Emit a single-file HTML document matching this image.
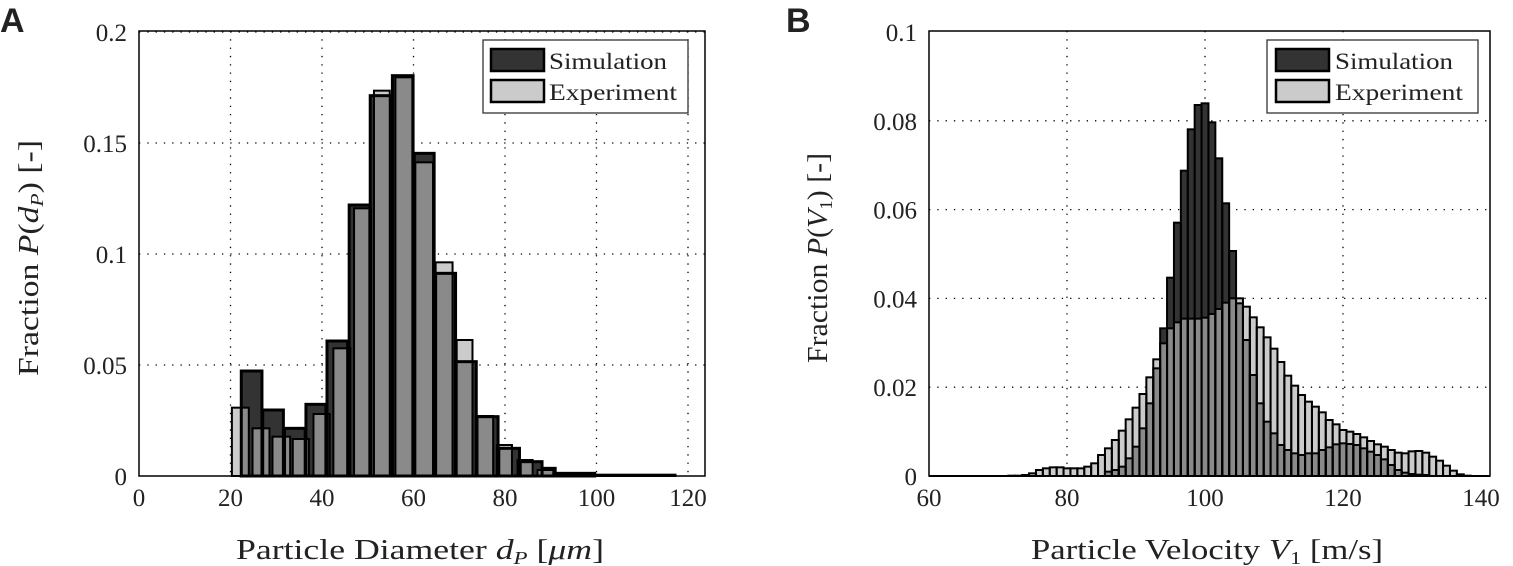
<!DOCTYPE html>
<html><head><meta charset="utf-8"><style>
html,body{margin:0;padding:0;background:#fff;width:1513px;height:566px;overflow:hidden}
svg text{font-family:"Liberation Serif",serif;fill:#222}
</style></head><body>
<svg id="s" width="1513" height="566" xmlns="http://www.w3.org/2000/svg"></svg>
<script>
const S=document.getElementById('s');let h='';
function R(x,y,w,hh,f,st,sw){h+=`<rect x="${x}" y="${y}" width="${w}" height="${hh}" fill="${f}" ${st?`stroke="${st}" stroke-width="${sw}"`:''}/>`;}
function L(x1,y1,x2,y2,st,sw,da){h+=`<line x1="${x1}" y1="${y1}" x2="${x2}" y2="${y2}" stroke="${st}" stroke-width="${sw}" ${da?`stroke-dasharray="${da}"`:''}/>`;}
function T(x,y,t,sz,anc,extra){h+=`<text x="${x}" y="${y}" font-size="${sz}" text-anchor="${anc||'middle'}" ${extra||''}>${t}</text>`;}
const Y0=476,YT=31,LA='lengthAdjust="spacingAndGlyphs"';
function drawBars(sim,exp,simSW,expSW){
 sim.forEach(b=>R(b[0],b[2],b[1]-b[0],Y0-b[2],'#333'));
 exp.forEach(b=>R(b[0],b[2],b[1]-b[0],Y0-b[2],'#cbcbcb'));
 sim.forEach(a=>exp.forEach(b=>{const x1=Math.max(a[0],b[0]),x2=Math.min(a[1],b[1]);if(x2>x1){const y=Math.max(a[2],b[2]);R(x1,y,x2-x1,Y0-y,'#8a8a8a');}}));
 sim.forEach(b=>R(b[0],b[2],b[1]-b[0],Y0-b[2],'none','#000',simSW));
 exp.forEach(b=>R(b[0],b[2],b[1]-b[0],Y0-b[2],'none','#000',expSW));
}
// ---------- Panel A ----------
(function(){
 const X=v=>139+v*4.575, Yv=v=>Y0-v*2220;
 for(let v=20;v<=120;v+=20)L(X(v),YT,X(v),Y0,'#000',1.3,'1.3 7');
 for(let v=0.05;v<0.21;v+=0.05)L(139,Yv(v),705,Yv(v),'#000',1.3,'1.3 7');
 const zx=z=>230+(z-265)/2.66, zy=z=>60+z/3;
 const sim=[[295,350,933],[352,407,1050],[410,465,1105],[467,520,1033],[523,578,843],[582,637,435],[638,695,107],[697,752,47],[755,808,280],[812,865,640],[865,920,905],[922,978,1070],[980,1035,1165],[1037,1095,1205],[1095,1130,1225],[1130,1235,1240]].map(b=>[zx(b[0]),zx(b[1]),zy(b[2])]);
 const exp=[[270,315,1043],[325,370,1105],[378,425,1130],[432,475,1137],[487,530,1062],[540,585,865],[595,640,445],[648,690,92],[705,750,52],[758,805,307],[812,857,607],[868,910,840],[920,965,1068],[975,1015,1155],[1030,1070,1200],[1083,1125,1230],[1125,1450,1244]].map(b=>[zx(b[0]),zx(b[1]),zy(b[2])]);
 drawBars(sim,exp,3,2);
 R(139,YT,566,Y0-YT,'none','#000',1.5);
 for(let v=0;v<=120;v+=20){T(X(v),506,v,25);}
 [[0,'0'],[0.05,'0.05'],[0.1,'0.1'],[0.15,'0.15'],[0.2,'0.2']].forEach(a=>T(127,Yv(a[0])+9,a[1],25,'end'));
 R(483,40,205,73,'#fff','#333',1.3);
 R(491,49,53,22,'#333','#000',2.5);R(491,80,53,22,'#cbcbcb','#000',2.5);
 T(549,69,'Simulation',23,'start','textLength="118" '+LA);T(549,100,'Experiment',23,'start','textLength="128" '+LA);
 T(420,559,'Particle Diameter <tspan font-style="italic">d</tspan><tspan font-style="italic" font-size="18" dy="5">P</tspan><tspan dy="-5"> [</tspan><tspan font-style="italic">μm</tspan>]',28,'middle','textLength="368" '+LA);
 h+=`<text transform="translate(38,258) rotate(-90)" font-size="28" text-anchor="middle" textLength="236" ${LA}>Fraction <tspan font-style="italic">P</tspan>(<tspan font-style="italic">d</tspan><tspan font-style="italic" font-size="18" dy="5">P</tspan><tspan dy="-5">) [-]</tspan></text>`;
 h+=`<text x="0" y="32" font-size="34" font-weight="bold" style="font-family:'Liberation Sans',sans-serif" fill="#000">A</text>`;
})();
// ---------- Panel B ----------
(function(){
 const X=v=>929+(v-60)*6.9, Yv=v=>Y0-v*4440;
 for(let v=80;v<=120;v+=20)L(X(v),YT,X(v),Y0,'#000',1.3,'1.3 7');
 for(let v=0.02;v<0.095;v+=0.02)L(929,Yv(v),1490,Yv(v),'#000',1.3,'1.3 7');
 const zyv=z=>(1158-z)/3/4440;
 const simZ={86:1145,87:1140,88:1130,89:1105,90:1070,91:1015,92:940,93:835,94:715,95:563,96:398,97:242,98:118,99:45,100:40,101:97,102:205,103:340,104:483,105:640,106:750,107:855,108:940,109:995,110:1030,111:1065,112:1080,113:1090,114:1095,115:1090,116:1090,117:1080,118:1072,119:1063,120:1060,121:1062,122:1065,123:1075,124:1085,125:1095,126:1108,127:1125,128:1140,129:1148,130:1152,131:1154,132:1155};
 const expZ={71:1158,72:1157,73:1157,74:1155,75:1150,76:1140,77:1135,78:1132,79:1132,80:1135,81:1135,82:1135,83:1130,84:1120,85:1095,86:1075,87:1050,88:1022,89:988,90:953,91:912,92:862,93:808,94:760,95:715,96:697,97:686,98:686,99:686,100:683,101:672,102:657,103:638,104:625,105:625,106:650,107:682,108:712,109:742,110:776,111:816,112:857,113:887,114:915,115:935,116:950,117:967,118:990,119:1003,120:1020,121:1025,122:1032,123:1042,124:1053,125:1063,126:1070,127:1080,128:1088,129:1090,130:1084,131:1083,132:1088,133:1100,134:1112,135:1127,136:1142,137:1153,138:1157};
 const sim=[],exp=[];
 for(const k in simZ){const v=+k;sim.push([X(v-0.5),X(v+0.5),Yv(zyv(simZ[k]))]);}
 for(const k in expZ){const v=+k;exp.push([X(v-0.5),X(v+0.5),Yv(zyv(expZ[k]))]);}
 drawBars(sim,exp,2,2);
 L(929,Y0,1490,Y0,'#000',2);
 R(929,YT,561,Y0-YT,'none','#000',1.5);
 for(let v=60;v<=140;v+=20){T(X(v),506,v,25);}
 [[0,'0'],[0.02,'0.02'],[0.04,'0.04'],[0.06,'0.06'],[0.08,'0.08'],[0.1,'0.1']].forEach(a=>T(917,Yv(a[0])+9,a[1],25,'end'));
 R(1267,40,211,73,'#fff','#333',1.3);
 R(1276,49,53,22,'#333','#000',2.5);R(1276,80,53,22,'#cbcbcb','#000',2.5);
 T(1335,69,'Simulation',23,'start','textLength="118" '+LA);T(1335,100,'Experiment',23,'start','textLength="128" '+LA);
 T(1207,559,'Particle Velocity <tspan font-style="italic">V</tspan><tspan font-size="18" dy="5">1</tspan><tspan dy="-5"> [m/s]</tspan>',28,'middle','textLength="352" '+LA);
 h+=`<text transform="translate(827,258) rotate(-90)" font-size="28" text-anchor="middle" textLength="210" ${LA}>Fraction <tspan font-style="italic">P</tspan>(<tspan font-style="italic">V</tspan><tspan font-size="18" dy="5">1</tspan><tspan dy="-5">) [-]</tspan></text>`;
 h+=`<text x="786" y="32" font-size="34" font-weight="bold" style="font-family:'Liberation Sans',sans-serif" fill="#000">B</text>`;
})();
S.innerHTML=h;
</script>
</body></html>
